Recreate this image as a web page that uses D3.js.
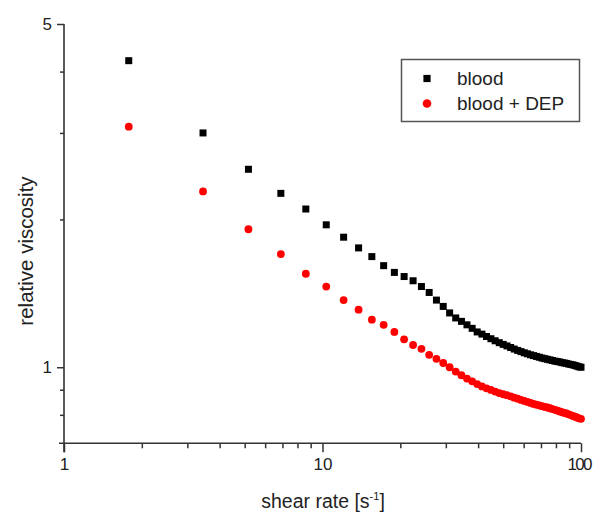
<!DOCTYPE html>
<html>
<head>
<meta charset="utf-8">
<script src="https://cdn.jsdelivr.net/npm/d3@7/dist/d3.min.js"></script>
<style>
  html, body { margin: 0; padding: 0; background: #fff; }
  svg { display: block; }
  text { font-family: "Liberation Sans", Arial, sans-serif; fill: #222; }
</style>
</head>
<body>
<svg id="chart" width="594" height="514"></svg>
<script>
// ---- data ----
const shearRate = [1.78, 3.45, 5.17, 6.90, 8.62, 10.34, 12.07, 13.79, 15.52, 17.24,
  18.97, 20.69, 22.41, 24.14, 25.86, 27.59, 29.31, 31.03, 32.76, 34.48,
  36.21, 37.93, 39.66, 41.38, 43.10, 44.83, 46.55, 48.28, 50.00, 51.72,
  53.45, 55.17, 56.90, 58.62, 60.34, 62.07, 63.79, 65.52, 67.24, 68.97,
  70.69, 72.41, 74.14, 75.86, 77.59, 79.31, 81.03, 82.76, 84.48, 86.21,
  87.93, 89.66, 91.38, 93.10, 94.83, 96.55, 98.28, 100.0];
const blood = [4.21, 3.00, 2.53, 2.26, 2.10, 1.95, 1.84, 1.75, 1.68, 1.61,
  1.56, 1.53, 1.50, 1.46, 1.42, 1.37, 1.33, 1.29, 1.26, 1.24,
  1.22, 1.20, 1.18, 1.168, 1.155, 1.143, 1.132, 1.122, 1.113, 1.105,
  1.097, 1.089, 1.082, 1.076, 1.070, 1.065, 1.060, 1.056, 1.052, 1.048,
  1.044, 1.041, 1.038, 1.035, 1.032, 1.029, 1.027, 1.025, 1.022, 1.020,
  1.018, 1.015, 1.013, 1.011, 1.008, 1.005, 1.002, 1.000];
const bloodDEP = [3.09, 2.28, 1.91, 1.70, 1.55, 1.46, 1.37, 1.31, 1.25, 1.22,
  1.18, 1.14, 1.11, 1.09, 1.06, 1.04, 1.02, 1.00, 0.980, 0.963,
  0.948, 0.936, 0.924, 0.914, 0.906, 0.899, 0.892, 0.886, 0.881, 0.877,
  0.872, 0.867, 0.863, 0.858, 0.854, 0.850, 0.846, 0.842, 0.839, 0.836,
  0.833, 0.830, 0.828, 0.825, 0.822, 0.819, 0.816, 0.813, 0.810, 0.807,
  0.805, 0.802, 0.799, 0.796, 0.793, 0.790, 0.787, 0.785];
const seriesNames = ["blood", "blood + DEP"];
const seriesColors = ["#000000", "#ff0000"];
const xMajorTicks = [1, 10, 100];
const xMinorTicks = [2, 3, 4, 5, 6, 7, 8, 9, 20, 30, 40, 50, 60, 70, 80, 90];
const yMajorTicks = [1, 5];
const yMinorTicks = [0.8, 0.9, 2, 3, 4];
const xTitle = "shear rate [s";
const yTitle = "relative viscosity";

// ---- layout ----
const svg = d3.select("#chart");
const x = d3.scaleLog().domain([1, 100]).range([64, 581]);
const y = d3.scaleLog().domain([0.7, 5]).range([443.3, 24]);
const axisColor = "#333";

// x axis
const gx = svg.append("g").attr("transform", `translate(0,${y(0.7)})`);
gx.call(d3.axisBottom(x).tickValues(xMajorTicks).tickSize(9).tickPadding(6)
  .tickFormat(d3.format("d")));
gx.append("g").call(d3.axisBottom(x).tickValues(xMinorTicks).tickSize(5).tickFormat(""))
  .select(".domain").remove();
gx.selectAll(".domain").attr("stroke", axisColor).attr("stroke-width", 1.6)
  .attr("d", `M${x(1) - 5},0H${x(100)}`);
gx.selectAll(".tick line").attr("stroke", axisColor).attr("stroke-width", 1.5);
gx.selectAll(".tick text").attr("font-size", 17).attr("fill", "#222")
  .attr("font-family", "Liberation Sans, Arial, sans-serif")
  .attr("dx", d => d === 100 ? -1.5 : 0)
  .attr("textLength", d => d === 100 ? 25 : null);

// y axis
const gy = svg.append("g").attr("transform", `translate(${x(1)},0)`);
gy.call(d3.axisLeft(y).tickValues(yMajorTicks).tickSize(7).tickPadding(5)
  .tickFormat(d3.format("d")));
gy.append("g").call(d3.axisLeft(y).tickValues(yMinorTicks).tickSize(4).tickFormat(""))
  .select(".domain").remove();
gy.selectAll(".domain").attr("stroke", axisColor).attr("stroke-width", 1.6)
  .attr("d", `M0,${y(5)}V${y(0.7) + 9}`);
gy.selectAll(".tick line").attr("stroke", axisColor).attr("stroke-width", 1.5);
gy.selectAll(".tick text").attr("font-size", 17).attr("fill", "#222")
  .attr("font-family", "Liberation Sans, Arial, sans-serif");

// axis titles
const xt = svg.append("text").attr("x", 323).attr("y", 508)
  .attr("text-anchor", "middle").attr("font-size", 19.5);
xt.append("tspan").text(xTitle);
xt.append("tspan").attr("font-size", 11).attr("dy", -8).text("-1");
xt.append("tspan").attr("dy", 8).text("]");

svg.append("text")
  .attr("transform", "translate(33,251) rotate(-90)")
  .attr("text-anchor", "middle").attr("font-size", 20.5)
  .text(yTitle);

// data
const pts0 = shearRate.map((s, i) => ({ s, v: blood[i] }));
const pts1 = shearRate.map((s, i) => ({ s, v: bloodDEP[i] }));
const sq = 7;
svg.append("g").selectAll("rect").data(pts0).join("rect")
  .attr("x", d => x(d.s) - sq / 2).attr("y", d => y(d.v) - sq / 2)
  .attr("width", sq).attr("height", sq).attr("fill", seriesColors[0]);
svg.append("g").selectAll("circle").data(pts1).join("circle")
  .attr("cx", d => x(d.s)).attr("cy", d => y(d.v)).attr("r", 3.9)
  .attr("fill", seriesColors[1]);

// legend
const lg = svg.append("g");
lg.append("rect").attr("x", 401.5).attr("y", 59.5).attr("width", 178).attr("height", 62)
  .attr("fill", "#fff").attr("stroke", "#555").attr("stroke-width", 1.5);
lg.append("rect").attr("x", 427 - 3.6).attr("y", 78.5 - 3.6).attr("width", 7.2).attr("height", 7.2)
  .attr("fill", seriesColors[0]);
lg.append("circle").attr("cx", 427).attr("cy", 103.5).attr("r", 4.3).attr("fill", seriesColors[1]);
lg.append("text").attr("x", 457).attr("y", 85).attr("font-size", 19).text(seriesNames[0]);
lg.append("text").attr("x", 457).attr("y", 110).attr("font-size", 19).text(seriesNames[1]);
</script>
</body>
</html>
